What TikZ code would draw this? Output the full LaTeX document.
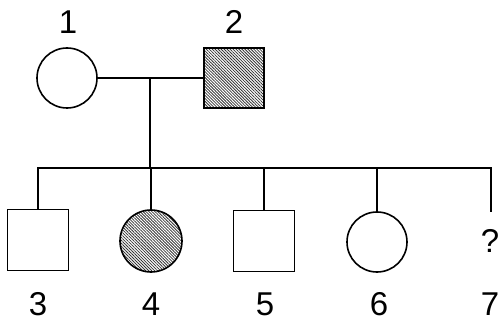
\documentclass[tikz,border=0pt]{standalone}
\usepackage{fontspec}
\setmainfont{Liberation Sans}
\usepackage{tikz}
\usetikzlibrary{positioning, patterns.meta}

\begin{document}
\begin{tikzpicture}[
    x=1pt, y=-1pt,
    font=\fontsize{33}{33}\selectfont,
    femalenode/.style={
        circle, draw=black, line width=1.6pt, fill=white,
        minimum size=60pt, inner sep=0pt
    },
    malenode/.style={
        rectangle, draw=black, line width=1.6pt, fill=white,
        minimum size=60pt, inner sep=0pt
    },
    affected/.style={
        pattern={Lines[angle=-45, distance=2.1pt, line width=0.8pt]},
        pattern color=black!80
    },
    numlabel/.style={inner sep=0pt},
    linestyle/.style={line width=1.5pt, black},
]

% ---- Frame ----
\useasboundingbox (0,0) rectangle (499,321);

% ---- Parents ----
\node[femalenode] (p1) at (67,78) {};
\node[malenode, affected] (p2) at (234,78) {};
\node[numlabel] (l1) at (68,22) {1};
\node[numlabel] (l2) at (234,22) {2};

\draw[linestyle] (p1.east) -- (p2.west);

% ---- Sibship line ----
\coordinate (mate) at (150,78);
\coordinate (sibL) at (37,168);
\coordinate (sibR) at (492,168);
\draw[linestyle] (mate) -- (mate |- sibL);
\draw[linestyle] (sibL) -- (sibR);

% ---- Children ----
\node[malenode, minimum size=61pt] (c3) at (38,240) {};
\node[femalenode, affected, minimum size=62pt] (c4) at (151,241) {};
\node[malenode, minimum size=61pt] (c5) at (264,241) {};
\node[femalenode] (c6) at (377,242) {};
\node[numlabel] (c7) at (490,241) {?};
\coordinate (c7top) at (491,212);

\foreach \c in {c3,c4,c5,c6} {
    \draw[linestyle] (\c.north) -- (\c.north |- sibL);
}
\draw[linestyle] (c7top) -- (c7top |- sibR);

% ---- Numbers ----
\foreach \c/\x in {3/38, 4/151, 5/265, 6/379, 7/490} {
    \node[numlabel] (l\c) at (\x,304) {\c};
}

\end{tikzpicture}
\end{document}
